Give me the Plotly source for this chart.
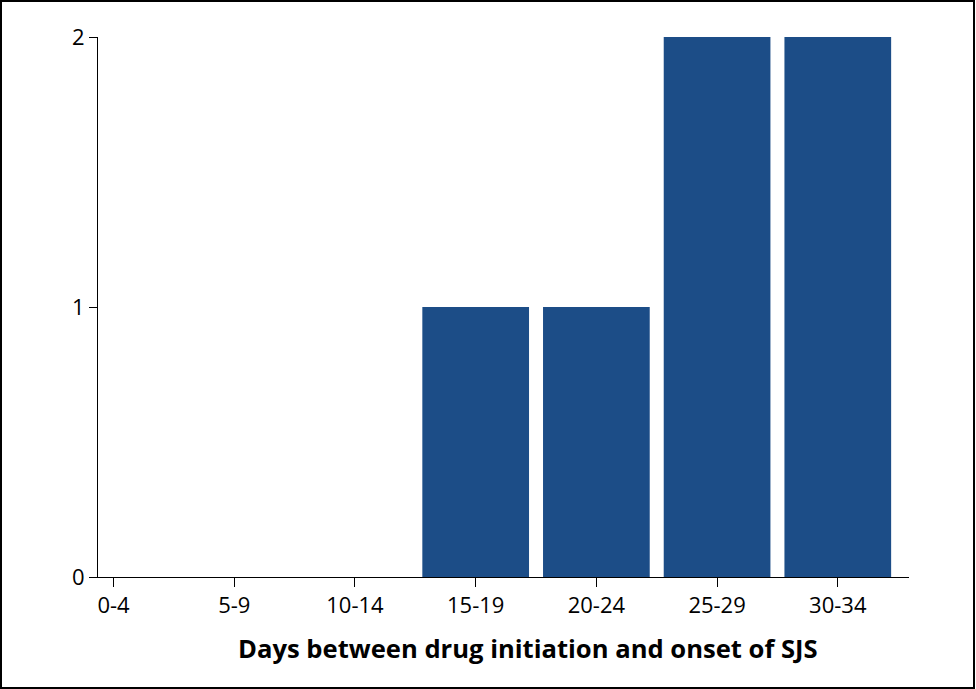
import plotly.graph_objects as go

# cases by days between drug initiation and SJS onset
day_bins = ["0-4", "5-9", "10-14", "15-19", "20-24", "25-29", "30-34"]
cases = [0, 0, 0, 1, 1, 2, 2]

xpos = list(range(len(day_bins)))

fig = go.Figure()
fig.add_trace(go.Bar(x=xpos, y=cases, marker=dict(color="#1c4d87", line=dict(width=0)),
                     width=0.884))

fig.update_layout(
    width=976, height=689,
    margin=dict(l=98, r=67, t=37, b=112),
    plot_bgcolor="white", paper_bgcolor="white",
    font=dict(family="Open Sans", color="black", size=22),
    showlegend=False,
    xaxis=dict(range=[-0.129, 6.59], tickmode="array", tickvals=xpos, ticktext=day_bins,
               showline=True, linecolor="black", linewidth=1, ticks="outside",
               ticklen=9, tickcolor="black", showgrid=False, zeroline=False),
    yaxis=dict(range=[0, 2], tickvals=[0, 1, 2], showline=True, linecolor="black",
               linewidth=1, ticks="outside", ticklen=8, tickcolor="black",
               showgrid=False, zeroline=False),
)
# axis title placed as annotation (sits right of plot centre in the original)
fig.add_annotation(text="<b>Days between drug initiation and onset of SJS</b>",
                   xref="paper", yref="paper", x=0.53, y=-0.1315,
                   xanchor="center", yanchor="middle", showarrow=False,
                   font=dict(size=25.6))
fig.add_shape(type="rect", xref="paper", yref="paper",
              x0=-97 / 811, x1=1 + 65 / 811, y0=-111 / 540, y1=1 + 36 / 540,
              line=dict(color="black", width=2))
fig.write_html("out.html", config={"displayModeBar": False},
               post_script="document.body.style.margin='0';")
